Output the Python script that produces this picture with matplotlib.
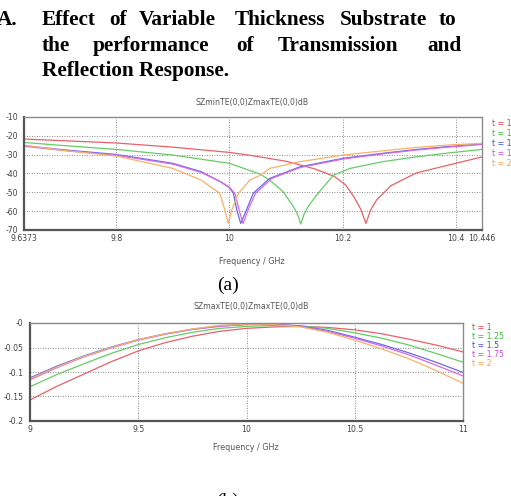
import matplotlib
matplotlib.use("Agg")
import matplotlib.pyplot as plt

plt.rcParams['axes.unicode_minus'] = False

W, H = 511, 496

# --- (a) reflection, dB ---
labels = ['t = 1', 't = 1.25', 't = 1.5', 't = 1.75', 't = 2']
line_colors = ['#e8606a', '#66cc66', '#6a6ae8', '#d868e0', '#f5b26a']
text_colors = ['#e03c46', '#3cb43c', '#4646dc', '#c848dc', '#f0a050']

fa_red = [9.6373, 9.7, 9.8, 9.9, 10.0, 10.04, 10.1, 10.15, 10.185, 10.205, 10.22,
          10.232, 10.241, 10.25, 10.26, 10.285, 10.33, 10.39, 10.446]
sa_red = [-21.7, -22.5, -23.8, -26.0, -28.8, -30.5, -33.5, -37.5, -41.5, -46.0, -52.5,
          -59.0, -66.5, -59.0, -54.0, -46.5, -39.7, -35.3, -31.2]

fa_green = [9.6373, 9.7, 9.8, 9.9, 10.0, 10.054, 10.071, 10.095, 10.113, 10.12, 10.126,
            10.132, 10.139, 10.154, 10.184, 10.213, 10.271, 10.331, 10.39, 10.446]
sa_green = [-23.5, -25.0, -27.2, -30.2, -34.6, -40.3, -43.5, -49.7, -57.6, -61.5, -66.8,
            -61.5, -57.6, -51.4, -40.8, -37.3, -33.7, -31.1, -29.0, -27.2]

fa_blue = [9.6373, 9.7, 9.8, 9.9, 9.95, 9.985, 10.0, 10.007, 10.013, 10.02, 10.03,
           10.042, 10.071, 10.125, 10.201, 10.27, 10.331, 10.39, 10.446]
sa_blue = [-25.2, -27.2, -29.9, -34.6, -39.0, -44.5, -47.5, -50.5, -59.4, -66.5, -59.4,
           -50.5, -42.6, -36.4, -31.9, -29.3, -27.2, -25.6, -24.3]

fa_mag = [9.6373, 9.7, 9.8, 9.9, 9.95, 9.985, 10.0, 10.01, 10.017, 10.024, 10.033,
          10.046, 10.075, 10.125, 10.201, 10.27, 10.331, 10.39, 10.446]
sa_mag = [-25.5, -27.6, -30.3, -35.0, -39.4, -44.5, -47.3, -50.8, -59.4, -66.5, -59.4,
          -50.5, -42.6, -36.8, -32.3, -29.6, -27.5, -25.9, -24.6]

fa_orange = [9.6373, 9.7, 9.8, 9.9, 9.95, 9.983, 9.992, 9.998, 10.004, 10.016, 10.036,
             10.054, 10.071, 10.125, 10.201, 10.27, 10.331, 10.39, 10.446]
sa_orange = [-25.0, -27.5, -30.7, -37.3, -43.5, -50.5, -59.4, -66.5, -59.4, -50.5, -43.5,
             -41.0, -37.3, -33.7, -30.2, -28.0, -26.1, -24.8, -24.0]

xticks_a = [9.6373, 9.8, 10, 10.2, 10.4, 10.446]
xticklabels_a = ['9.6373', '9.8', '10', '10.2', '10.4', '10.446']
yticks_a = [-10, -20, -30, -40, -50, -60, -70]

# --- (b) transmission, dB ---
fb = [9.0, 9.125, 9.25, 9.375, 9.5, 9.625, 9.75, 9.875, 10.0,
      10.125, 10.25, 10.375, 10.5, 10.625, 10.75, 10.875, 11.0]
sb_red = [-0.157, -0.129, -0.104, -0.079, -0.057, -0.040, -0.027, -0.017, -0.011,
          -0.008, -0.007, -0.009, -0.014, -0.022, -0.033, -0.045, -0.059]
sb_green = [-0.130, -0.105, -0.083, -0.062, -0.044, -0.030, -0.019, -0.011, -0.007,
            -0.005, -0.006, -0.011, -0.020, -0.031, -0.045, -0.062, -0.080]
sb_blue = [-0.112, -0.088, -0.067, -0.049, -0.034, -0.022, -0.013, -0.006, -0.003,
           -0.002, -0.006, -0.015, -0.029, -0.044, -0.061, -0.080, -0.101]
sb_mag = [-0.116, -0.091, -0.069, -0.051, -0.035, -0.023, -0.013, -0.007, -0.003,
          -0.003, -0.007, -0.017, -0.031, -0.047, -0.065, -0.086, -0.108]
sb_orange = [-0.114, -0.090, -0.068, -0.050, -0.034, -0.022, -0.012, -0.005, -0.002,
             -0.003, -0.008, -0.019, -0.035, -0.053, -0.073, -0.097, -0.123]

xticks_b = [9, 9.5, 10, 10.5, 11]
xticklabels_b = ['9', '9.5', '10', '10.5', '11']
yticks_b = [0, -0.05, -0.1, -0.15, -0.2]
yticklabels_b = ['-0', '-0.05', '-0.1', '-0.15', '-0.2']


def fx(px):
    return px / W


def fy(py):
    return 1 - py / H


def style_axes(ax):
    ax.set_facecolor('white')
    for side in ['left', 'bottom']:
        ax.spines[side].set_color('#555555')
        ax.spines[side].set_linewidth(1.6)
    for side in ['top', 'right']:
        ax.spines[side].set_color('#8a8a8a')
        ax.spines[side].set_linewidth(1.0)
    ax.tick_params(length=0, labelsize=5.6, labelcolor='#444444')
    ax.tick_params(axis='y', pad=4.5)
    ax.tick_params(axis='x', pad=3)
    ax.grid(True, color='#606060', linestyle=(0, (1, 2)), linewidth=0.6)


fig = plt.figure(figsize=(W / 100, H / 100), dpi=100)

# heading
serif = dict(family='Liberation Serif', weight='bold', size=15.3, va='baseline')
fig.text(fx(-3), fy(25), 'A.', **serif)
for word, x in zip(['Effect', 'of', 'Variable', 'Thickness', 'Substrate', 'to'],
                   [42, 109, 139, 235, 340, 439]):
    fig.text(fx(x), fy(25), word, **serif)
for word, x in zip(['the', 'performance', 'of', 'Transmission', 'and'],
                   [42, 93, 236, 278, 427]):
    fig.text(fx(x), fy(51), word, **serif)
fig.text(fx(42), fy(76), 'Reflection Response.', **serif)

# plot (a)
ax1 = fig.add_axes([fx(24), fy(230), fx(482) - fx(24), fy(117) - fy(230)])
series_a = [(fa_red, sa_red), (fa_green, sa_green), (fa_blue, sa_blue),
            (fa_mag, sa_mag), (fa_orange, sa_orange)]
for (f, s), c in zip(series_a, line_colors):
    ax1.plot(f, s, color=c, linewidth=0.9)
ax1.set_xlim(9.6373, 10.446)
ax1.set_ylim(-70, -10)
ax1.set_xticks(xticks_a)
ax1.set_xticklabels(xticklabels_a)
ax1.set_yticks(yticks_a)
style_axes(ax1)
fig.text(fx(252), fy(103), 'SZminTE(0,0)ZmaxTE(0,0)dB', fontsize=5.6, color='#555555',
         ha='center', va='center')
fig.text(fx(252), fy(262), 'Frequency / GHz', fontsize=5.8, color='#555555',
         ha='center', va='center')
for i, (lab, c) in enumerate(zip(labels, text_colors)):
    fig.text(fx(492), fy(124 + i * 10), lab, fontsize=5.6, color=c, va='center')
fig.text(fx(228), fy(285), '(a)', family='Liberation Serif', size=14, ha='center', va='center')

# plot (b)
ax2 = fig.add_axes([fx(30), fy(421), fx(463) - fx(30), fy(323) - fy(421)])
series_b = [sb_red, sb_green, sb_blue, sb_mag, sb_orange]
for s, c in zip(series_b, line_colors):
    ax2.plot(fb, s, color=c, linewidth=0.9)
ax2.set_xlim(9, 11)
ax2.set_ylim(-0.2, 0)
ax2.set_xticks(xticks_b)
ax2.set_xticklabels(xticklabels_b)
ax2.set_yticks(yticks_b)
ax2.set_yticklabels(yticklabels_b)
style_axes(ax2)
fig.text(fx(251), fy(307), 'SZmaxTE(0,0)ZmaxTE(0,0)dB', fontsize=5.6, color='#555555',
         ha='center', va='center')
fig.text(fx(246), fy(447), 'Frequency / GHz', fontsize=5.8, color='#555555',
         ha='center', va='center')
for i, (lab, c) in enumerate(zip(labels, text_colors)):
    fig.text(fx(472), fy(328 + i * 8.8), lab, fontsize=5.6, color=c, va='center')
fig.text(fx(228), fy(501), '(b)', family='Liberation Serif', size=14, ha='center', va='center')

fig.savefig('out.png', dpi=100, facecolor='white')
